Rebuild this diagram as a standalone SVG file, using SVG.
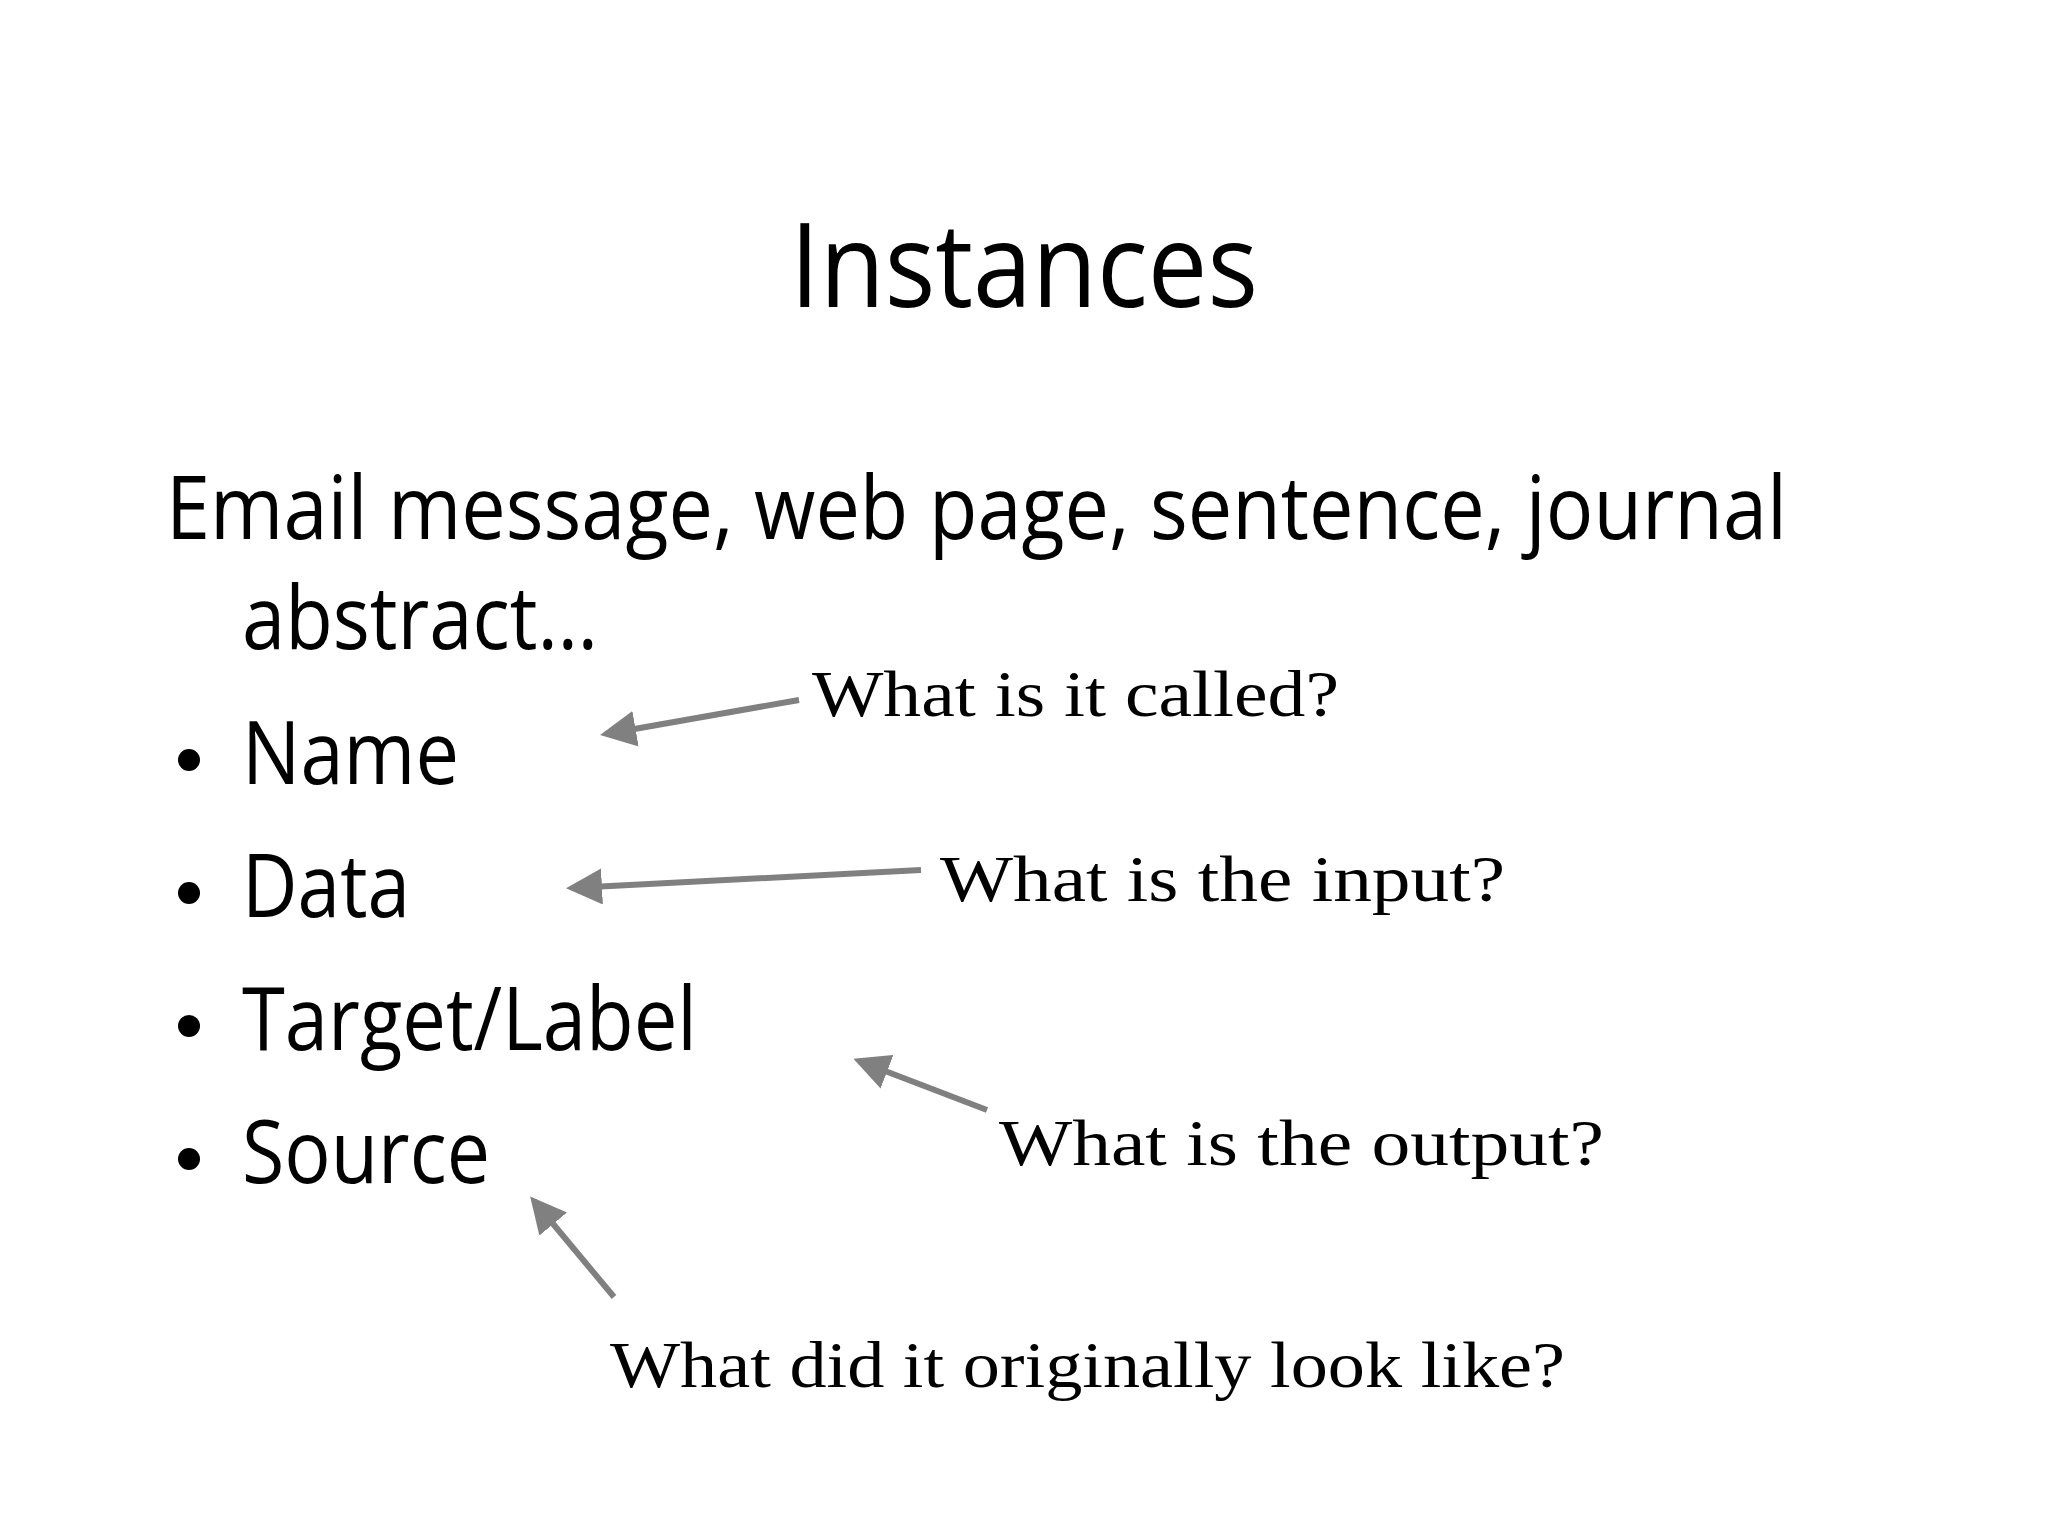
<svg xmlns="http://www.w3.org/2000/svg" width="2048" height="1536" viewBox="0 0 2048 1536">
<style>
.s{font-family:"Open Sans","Noto Sans",sans-serif;fill:#000}
.l{font-family:"Liberation Serif","DejaVu Serif",serif;font-size:66px;fill:#000}
.c{stroke:#808080;stroke-width:6;fill:none;marker-end:url(#a)}
</style>
<defs><marker id="a" markerWidth="6" markerHeight="6" refX="5" refY="3" orient="auto" markerUnits="strokeWidth"><path d="M0,0 L6,3 L0,6 Z" fill="#808080"/></marker></defs>
<rect width="2048" height="1536" fill="#fff"/>
<g id="title"><text class="s" x="1024" y="307" font-size="118" text-anchor="middle" textLength="468" lengthAdjust="spacingAndGlyphs">Instances</text></g>
<g id="body">
<text class="s" x="166" y="539" font-size="88" textLength="1621" lengthAdjust="spacingAndGlyphs">Email message, web page, sentence, journal</text>
<text class="s" x="242" y="649" font-size="88" textLength="356" lengthAdjust="spacingAndGlyphs">abstract…</text>
</g>
<g id="bullets" class="s" font-size="88">
<circle cx="189" cy="760" r="11"/><text x="242" y="784" textLength="217" lengthAdjust="spacingAndGlyphs">Name</text>
<circle cx="189" cy="893" r="11"/><text x="242" y="917" textLength="168" lengthAdjust="spacingAndGlyphs">Data</text>
<circle cx="189" cy="1026" r="11"/><text x="242" y="1050" textLength="455" lengthAdjust="spacingAndGlyphs">Target/Label</text>
<circle cx="189" cy="1159" r="11"/><text x="242" y="1183" textLength="248" lengthAdjust="spacingAndGlyphs">Source</text>
</g>
<g id="labels">
<text class="l" x="812" y="716" textLength="527" lengthAdjust="spacingAndGlyphs">What is it called?</text>
<text class="l" x="940" y="901" textLength="565" lengthAdjust="spacingAndGlyphs">What is the input?</text>
<text class="l" x="999" y="1165" textLength="605" lengthAdjust="spacingAndGlyphs">What is the output?</text>
<text class="l" x="610" y="1387" textLength="955" lengthAdjust="spacingAndGlyphs">What did it originally look like?</text>
</g>
<g id="connectors">
<line class="c" x1="799" y1="700" x2="606" y2="734"/>
<line class="c" x1="921" y1="870" x2="572" y2="888"/>
<line class="c" x1="987" y1="1110" x2="859" y2="1061"/>
<line class="c" x1="614" y1="1297" x2="534" y2="1201"/>
</g>
</svg>
